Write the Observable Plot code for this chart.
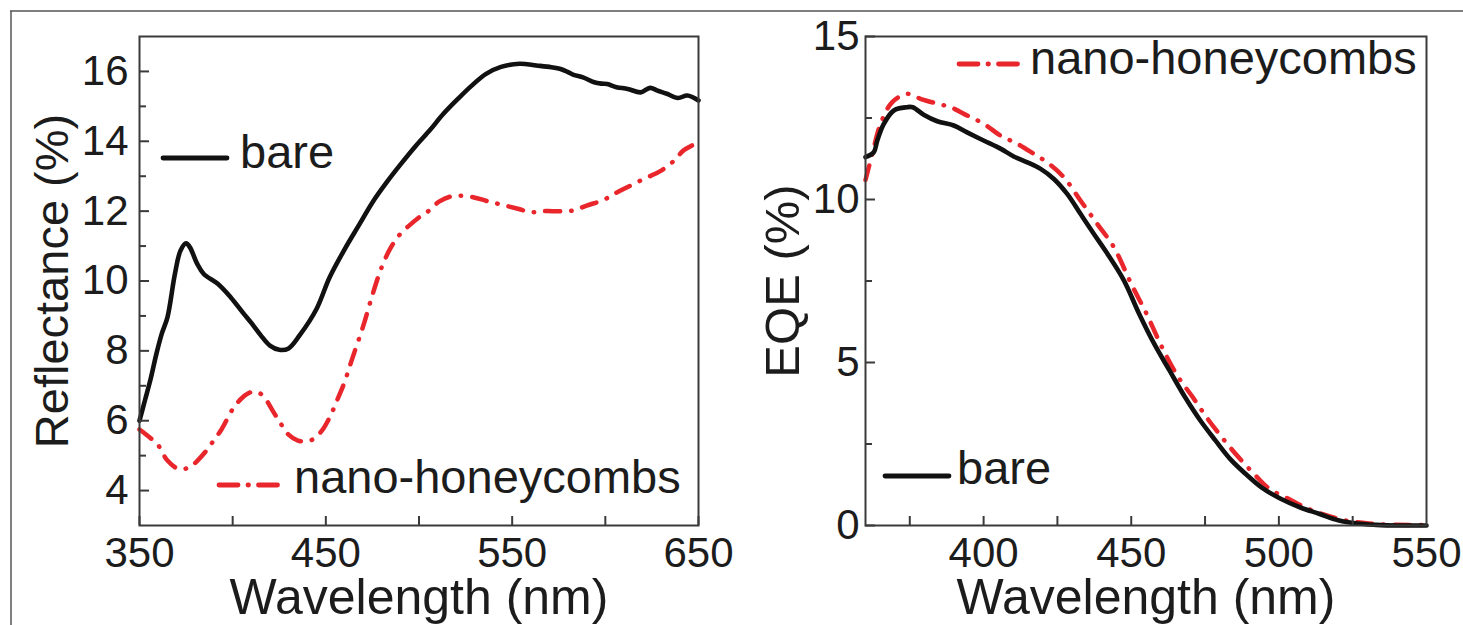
<!DOCTYPE html>
<html><head><meta charset="utf-8">
<script src="https://cdn.jsdelivr.net/npm/d3@7"></script>
<script src="https://cdn.jsdelivr.net/npm/@observablehq/plot@0.6"></script>
<style>
html,body{margin:0;padding:0;background:#fff;}
#wrap{position:relative;width:1463px;height:625px;overflow:hidden;background:#fff;}
#wrap svg{position:absolute;top:0;}
</style></head><body><div id="wrap"></div>
<script>
// ---------- Data: left panel (Reflectance) ----------
const reflBareWl = [350,353,356,359,362,365,369,372,375,377,381,384.5,392,399,406,410,415,420,425,430,436,445,452,460,468,475,483,490,498,506,513,521,528,536,544,554,563,571,576,580,583,588,594,598,601,606,612,619,624,628,633,639,644,650];
const reflBare   = [6.0,6.6,7.2,7.9,8.5,8.96,10.2,10.87,11.08,10.97,10.49,10.2,9.92,9.53,9.06,8.8,8.45,8.15,8.03,8.07,8.45,9.2,10.1,10.9,11.62,12.25,12.85,13.33,13.85,14.33,14.78,15.22,15.58,15.93,16.13,16.22,16.17,16.12,16.07,15.98,15.9,15.83,15.69,15.65,15.64,15.55,15.5,15.4,15.53,15.45,15.36,15.24,15.31,15.17];
const reflNanoWl = [350,352,356,360,365,371,377,381,386,390,394,400,405,410,414,417,422,426,430,435,441,445,449,453,456,460,464,470,475,480,485,490,495,500,505,511,518,529,537,544,553,560,567,576,583,590,599,605,612,621,630,637,642,650];
const reflNano   = [5.75,5.67,5.5,5.3,4.86,4.62,4.67,4.85,5.15,5.45,5.75,6.33,6.65,6.82,6.8,6.67,6.24,5.9,5.6,5.43,5.42,5.55,5.8,6.2,6.58,7.1,7.75,8.7,9.6,10.4,10.97,11.35,11.6,11.82,12.0,12.28,12.43,12.4,12.28,12.19,12.07,11.97,12.0,12.0,12.02,12.16,12.32,12.5,12.69,12.93,13.16,13.45,13.74,13.97];
const reflXTicks = [350,400,450,500,550,600,650];
const reflXLabels = [350,450,550,650];
const reflYMajor = [4,6,8,10,12,14,16];
const reflYMinor = [5,7,9,11,13,15];

// ---------- Data: right panel (EQE) ----------
const eqeBareWl = [360,362.8,364,366.2,369.6,374,376,379.7,384.3,389.9,394.4,400,405.7,410.2,414.8,419.3,423.8,428.3,432.8,437.3,441.6,447.5,452.7,457.8,463,468.2,473.4,478.5,483.7,488.9,494.1,500.6,507.1,513.6,520.1,526.5,533,540,550];
const eqeBare   = [11.3,11.45,11.81,12.32,12.73,12.83,12.83,12.6,12.4,12.27,12.06,11.81,11.56,11.32,11.14,10.94,10.63,10.17,9.56,8.95,8.38,7.52,6.49,5.57,4.75,3.94,3.22,2.61,2.02,1.57,1.17,0.82,0.56,0.36,0.16,0.06,0.02,0.0,0.0];
const eqeNanoWl = [360,362.3,365.1,369,374.1,378.6,384.3,388.8,394.4,400.1,405.7,411.4,417,421.5,427.2,432.8,438.5,444.1,450,455.2,460.4,465.6,470.8,475.9,481.1,486.3,491.5,496.7,503.2,509.7,516.2,522.7,530.5,540,550];
const eqeNano   = [10.6,11.4,12.32,12.98,13.24,13.09,12.94,12.83,12.58,12.32,11.96,11.71,11.4,11.14,10.68,9.97,9.25,8.54,7.41,6.49,5.47,4.6,3.94,3.27,2.66,2.1,1.59,1.13,0.82,0.52,0.31,0.15,0.06,0.02,0.02];
const eqeXTicks = [375,400,425,450,475,500,525];
const eqeXLabels = [400,450,500,550];
const eqeYMajor = [0,5,10,15];
const eqeYMinor = [2.5,7.5,12.5];

const seriesNames = ["bare", "nano-honeycombs"];

// ---------- Styles ----------
const FONT = '"Liberation Sans", Arial, Helvetica, sans-serif';
const TXT = "#1c1c1c";
const AX = "#3a3a3a";
const BLACK = "#111111";
const RED = "#e8262b";
const DASH = "15,11,0.5,11";

const toRows = (wl, v) => wl.map((w, i) => ({w, v: v[i]}));

function panel({width, ml, mr, xDomain, yDomain, bare, nano, xTicks, xLabels, yMajor, yMinor, yTitle, yTitleDx, yTitleSize, yPad}) {
  return Plot.plot({
    width, height: 625,
    marginLeft: ml, marginRight: mr, marginTop: 36, marginBottom: 100,
    style: {fontFamily: FONT, color: TXT, background: "transparent", overflow: "visible"},
    x: {domain: xDomain},
    y: {domain: yDomain},
    marks: [
      Plot.line(nano, {x: "w", y: "v", stroke: RED, strokeWidth: 4.5, strokeDasharray: DASH, strokeLinecap: "round", curve: "catmull-rom"}),
      Plot.line(bare, {x: "w", y: "v", stroke: BLACK, strokeWidth: 4.6, curve: "catmull-rom"}),
      Plot.frame({stroke: AX, strokeWidth: 2}),
      Plot.axisX({ticks: xTicks, tickSize: 9, dy: -9, fill: "none", label: null, stroke: AX, strokeWidth: 2}),
      Plot.axisX({ticks: xLabels, tickSize: 0, tickPadding: 12, fontSize: 42, fill: TXT, label: null}),
      Plot.axisY({ticks: yMajor, tickSize: 10, dx: 10, fill: "none", label: null, stroke: AX, strokeWidth: 2}),
      Plot.axisY({ticks: yMinor, tickSize: 7, dx: 7, fill: "none", label: null, stroke: AX, strokeWidth: 2}),
      Plot.axisY({ticks: yMajor, tickSize: 0, tickPadding: yPad, fontSize: 42, fill: TXT, label: null}),
      Plot.text(["Wavelength (nm)"], {frameAnchor: "bottom", dy: 88, lineAnchor: "bottom", textAnchor: "middle", fontSize: 50, fill: TXT}),
      Plot.text([yTitle], {frameAnchor: "left", rotate: -90, dx: yTitleDx, textAnchor: "middle", lineAnchor: "middle", fontSize: yTitleSize, fill: TXT})
    ]
  });
}

const wrap = document.getElementById("wrap");

const left = panel({
  width: 740, ml: 139, mr: 42, xDomain: [350, 650], yDomain: [3, 17],
  bare: toRows(reflBareWl, reflBare), nano: toRows(reflNanoWl, reflNano),
  xTicks: reflXTicks, xLabels: reflXLabels, yMajor: reflYMajor, yMinor: reflYMinor,
  yTitle: "Reflectance (%)", yTitleDx: -87, yTitleSize: 47, yPad: 11
});
left.style.left = "0px";
wrap.appendChild(left);

const right = panel({
  width: 723, ml: 125, mr: 37, xDomain: [360, 550], yDomain: [0, 15],
  bare: toRows(eqeBareWl, eqeBare), nano: toRows(eqeNanoWl, eqeNano),
  xTicks: eqeXTicks, xLabels: eqeXLabels, yMajor: eqeYMajor, yMinor: eqeYMinor,
  yTitle: "EQE (%)", yTitleDx: -82, yTitleSize: 49, yPad: 6
});
right.style.left = "740px";
wrap.appendChild(right);

// ---------- Legends and figure border (overlay) ----------
const ov = d3.select(wrap).append("svg")
  .attr("width", 1463).attr("height", 625)
  .style("left", "0px").style("pointer-events", "none")
  .attr("font-family", FONT);

ov.append("line").attr("x1", 10).attr("x2", 1463).attr("y1", 11).attr("y2", 11).attr("stroke", "#555").attr("stroke-width", 1.5);
ov.append("line").attr("x1", 11).attr("x2", 11).attr("y1", 11).attr("y2", 625).attr("stroke", "#555").attr("stroke-width", 1.5);

const legends = [
  {name: seriesNames[0], x1: 163, x2: 227, y: 158, tx: 240, ty: 168},
  {name: seriesNames[1], x1: 219, x2: 278, y: 485, tx: 294, ty: 493},
  {name: seriesNames[1], x1: 959, x2: 1020, y: 64, tx: 1030, ty: 74},
  {name: seriesNames[0], x1: 885, x2: 949, y: 476, tx: 957, ty: 484}
];
for (const L of legends) {
  const isBare = L.name === "bare";
  ov.append("line").attr("x1", L.x1).attr("x2", L.x2).attr("y1", L.y).attr("y2", L.y)
    .attr("stroke", isBare ? BLACK : RED).attr("stroke-width", 4.8)
    .attr("stroke-linecap", "round")
    .attr("stroke-dasharray", isBare ? null : "19,10,0.5,10");
  ov.append("text").attr("x", L.tx).attr("y", L.ty).attr("font-size", 47).attr("fill", TXT).text(L.name);
}
</script>
</body></html>
